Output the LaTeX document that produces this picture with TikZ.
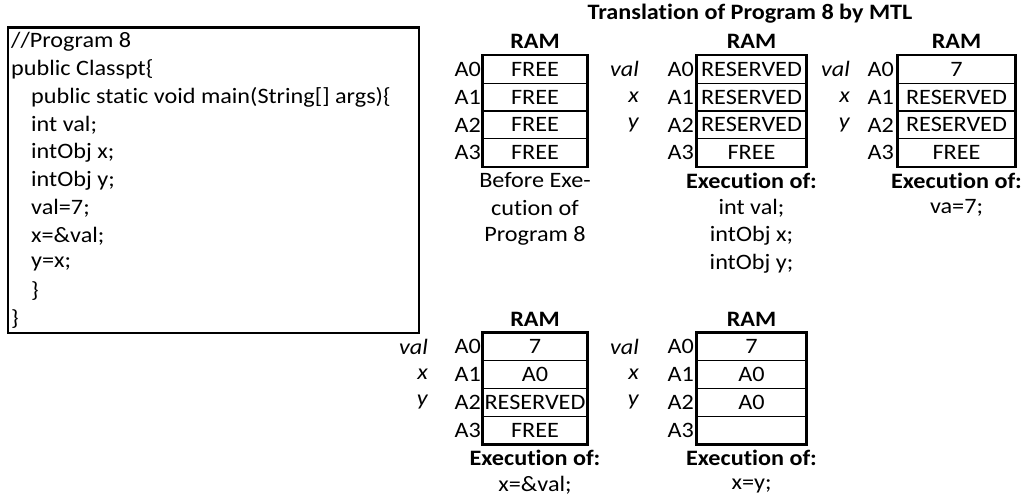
\documentclass[tikz,border=0pt]{standalone}
\usepackage{fontspec}
\setmainfont{Carlito}[FakeStretch=1.1, Ligatures=NoCommon]
\usetikzlibrary{positioning}

\newcommand{\xlfont}{\fontsize{22}{26}\selectfont}

\tikzset{
  cell/.style={draw, line width=1.1pt, minimum height=27.75pt, inner sep=0pt},
  ramborder/.style={line width=2.4pt},
  head/.style={font=\xlfont\bfseries},
  addr/.style={anchor=east},
  var/.style={anchor=east, font=\xlfont\itshape},
  codeline/.style={anchor=west}
}

\begin{document}
\begin{tikzpicture}[x=1pt, y=-27.75pt, every node/.style={font=\xlfont, inner sep=0pt}]
\useasboundingbox (0,0) rectangle (1026,17.91);

% source listing
\draw[line width=2.6pt] (8,1) rectangle (419,12);
\node[codeline] (l1) at (11,1.5) {//Program 8};
\node[codeline] (l2) at (11,2.5) {public Classpt\{};
\node[codeline] (l3) at (31,3.5) {public static void main(String[] args)\{};
\node[codeline] (l4) at (31,4.5) {int val;};
\node[codeline] (l5) at (31,5.5) {intObj x;};
\node[codeline] (l6) at (31,6.5) {intObj y;};
\node[codeline] (l7) at (31,7.5) {val=7;};
\node[codeline] (l8) at (31,8.5) {x=\&val;};
\node[codeline] (l9) at (31,9.5) {y=x;};
\node[codeline] (l10) at (31,10.5) {\}};
\node[codeline] (l11) at (11,11.5) {\}};

\node[head] (title) at (750,0.5) {Translation of Program 8 by MTL};

% RAM before execution
\node[head] (hA) at (535,1.5) {RAM};
\foreach \v [count=\i from 0] in {FREE,FREE,FREE,FREE}
  \node[cell, minimum width=104pt] (ramA\i) at (535,\i+2.5) {\v};
\draw[ramborder] (ramA0.north west) rectangle (ramA3.south east);
\foreach \i in {0,...,3}
  \node[addr] (adA\i) at (481,\i+2.5) {A\i};
\node (capA1) at (535,6.5) {Before Exe-};
\node (capA2) at (535,7.5) {cution of};
\node (capA3) at (535,8.5) {Program 8};

% RAM after declarations
\node[head] (hB) at (751.5,1.5) {RAM};
\foreach \v [count=\i from 0] in {RESERVED,RESERVED,RESERVED,FREE}
  \node[cell, minimum width=109pt] (ramB\i) at (751.5,\i+2.5) {\v};
\draw[ramborder] (ramB0.north west) rectangle (ramB3.south east);
\foreach \i in {0,...,3}
  \node[addr] (adB\i) at (694,\i+2.5) {A\i};
\node[var] (vB0) at (639,2.5) {val};
\node[var] (vB1) at (639,3.5) {x};
\node[var] (vB2) at (639,4.5) {y};
\node[head] (capB0) at (751.5,6.5) {Execution of:};
\node (capB1) at (751.5,7.5) {int val;};
\node (capB2) at (751.5,8.5) {intObj x;};
\node (capB3) at (751.5,9.5) {intObj y;};

% RAM after val=7
\node[head] (hC) at (956.5,1.5) {RAM};
\foreach \v [count=\i from 0] in {7,RESERVED,RESERVED,FREE}
  \node[cell, minimum width=117pt] (ramC\i) at (956.5,\i+2.5) {\v};
\draw[ramborder] (ramC0.north west) rectangle (ramC3.south east);
\foreach \i in {0,...,3}
  \node[addr] (adC\i) at (894,\i+2.5) {A\i};
\node[var] (vC0) at (850,2.5) {val};
\node[var] (vC1) at (850,3.5) {x};
\node[var] (vC2) at (850,4.5) {y};
\node[head] (capC0) at (956.5,6.5) {Execution of:};
\node (capC1) at (956.5,7.5) {va=7;};

% RAM after x=&val
\node[head] (hD) at (535,11.5) {RAM};
\foreach \v [count=\i from 0] in {7,A0,RESERVED,FREE}
  \node[cell, minimum width=104pt] (ramD\i) at (535,\i+12.5) {\v};
\draw[ramborder] (ramD0.north west) rectangle (ramD3.south east);
\foreach \i in {0,...,3}
  \node[addr] (adD\i) at (481,\i+12.5) {A\i};
\node[var] (vD0) at (428,12.5) {val};
\node[var] (vD1) at (428,13.5) {x};
\node[var] (vD2) at (428,14.5) {y};
\node[head] (capD0) at (535,16.5) {Execution of:};
\node (capD1) at (535,17.5) {x=\&val;};

% RAM after x=y
\node[head] (hE) at (751.5,11.5) {RAM};
\foreach \v [count=\i from 0] in {7,A0,A0,{}}
  \node[cell, minimum width=109pt] (ramE\i) at (751.5,\i+12.5) {\v};
\draw[ramborder] (ramE0.north west) rectangle (ramE3.south east);
\foreach \i in {0,...,3}
  \node[addr] (adE\i) at (694,\i+12.5) {A\i};
\node[var] (vE0) at (639,12.5) {val};
\node[var] (vE1) at (639,13.5) {x};
\node[var] (vE2) at (639,14.5) {y};
\node[head] (capE0) at (751.5,16.5) {Execution of:};
\node (capE1) at (751.5,17.5) {x=y;};
\end{tikzpicture}
\end{document}
